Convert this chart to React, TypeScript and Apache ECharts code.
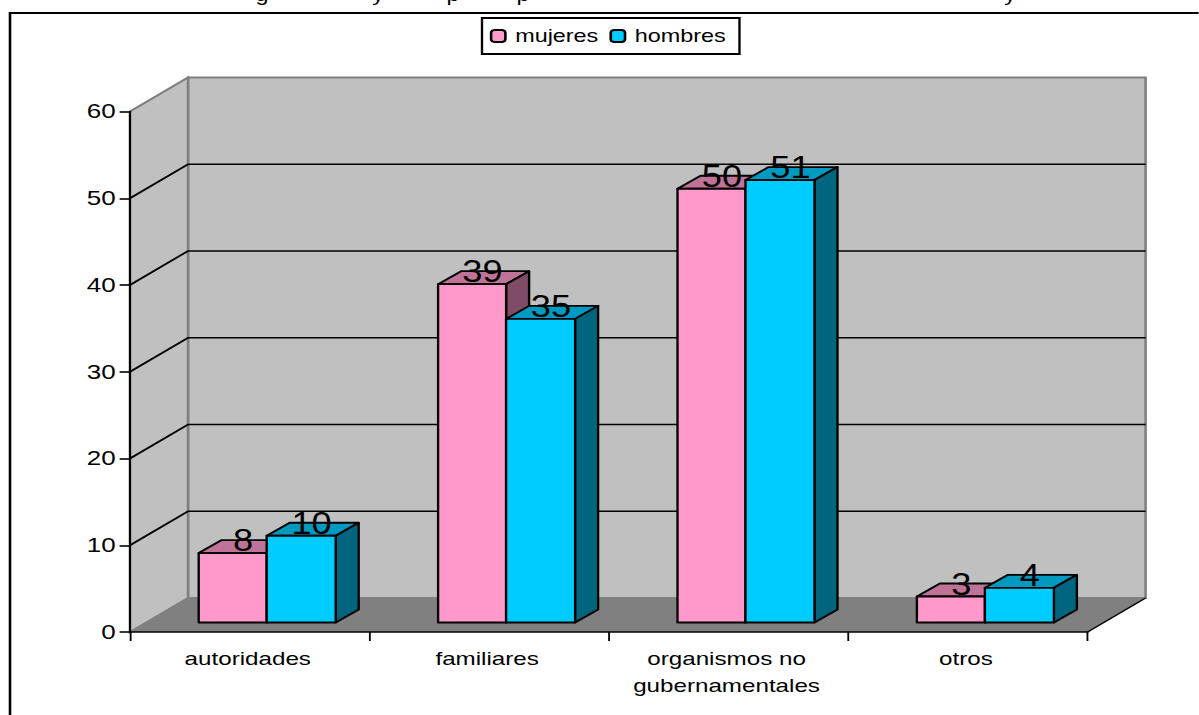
import React, { useEffect, useRef } from "react";
import * as echarts from "echarts";

const categories = ["autoridades", "familiares", "organismos no\ngubernamentales", "otros"];
const mujeres = [8, 39, 50, 3];
const hombres = [10, 35, 51, 4];
const yTicks = [10, 20, 30, 40, 50];
const titleFragments: [string, number][] = [["g", 262], ["y", 378], ["p", 453], ["p", 523], ["y", 1010]];

const SX = 1.3; // the picture is stretched horizontally
const W = 1199;
const H = 715;
const FONT = '"Liberation Sans", Arial, sans-serif';
const DX = 58 / SX;
const DY = 34;
const BAR_W = [68 / SX, 69 / SX];
const BDX = 23 / SX;
const BDY = 13;
const BASE_UP = 9.5;
const CENTER_SHIFT = 17 / SX;

function wallRender(params: any, api: any) {
  const c = params.coordSys;
  const x0 = c.x;
  const x1 = c.x + c.width;
  const y0 = api.coord([0, 0])[1];
  const yTop = api.coord([0, 60])[1];
  const grey = "#808080";
  const children: any[] = [
    { type: "polygon", shape: { points: [[x0 + DX, y0 - DY], [x1 + DX, y0 - DY], [x1 + DX, yTop - DY], [x0 + DX, yTop - DY]] }, style: { fill: "#C0C0C0", stroke: grey, lineWidth: 2 } },
    { type: "polygon", shape: { points: [[x0, y0], [x0 + DX, y0 - DY], [x0 + DX, yTop - DY], [x0, yTop]] }, style: { fill: "#C0C0C0", stroke: grey, lineWidth: 2 } },
    { type: "polygon", shape: { points: [[x0, y0], [x1, y0], [x1 + DX, y0 - DY], [x0 + DX, y0 - DY]] }, style: { fill: "#808080", stroke: "none" } },
    { type: "line", shape: { x1: x1, y1: y0, x2: x1 + DX, y2: y0 - DY }, style: { stroke: "#000", lineWidth: 1.4 } },
  ];
  yTicks.forEach((t) => {
    const y = api.coord([0, t])[1];
    children.push({ type: "polyline", shape: { points: [[x0, y], [x0 + DX, y - DY], [x1 + DX, y - DY]] }, style: { fill: "none", stroke: "#000", lineWidth: 1.7 } });
  });
  return { type: "group", children };
}

function barRender(front: string, top: string, side: string, which: number) {
  return (params: any, api: any) => {
    const idx = api.value(0);
    const v = api.value(1);
    const center = api.coord([idx, 0])[0] + CENTER_SHIFT;
    const yb = api.coord([idx, 0])[1] - BASE_UP;
    const yt = api.coord([idx, v])[1] - BASE_UP;
    const w = BAR_W[which];
    const xl = center + (which === 0 ? -w : 0);
    const xr = xl + w;
    const line = { stroke: "#000", lineWidth: 1.8, lineJoin: "round" };
    return {
      type: "group",
      children: [
        { type: "polygon", shape: { points: [[xl, yt], [xr, yt], [xr + BDX, yt - BDY], [xl + BDX, yt - BDY]] }, style: { fill: top, ...line } },
        { type: "polygon", shape: { points: [[xr, yt], [xr + BDX, yt - BDY], [xr + BDX, yb - BDY], [xr, yb]] }, style: { fill: side, ...line } },
        { type: "rect", shape: { x: xl, y: yt, width: w, height: yb - yt }, style: { fill: front, ...line } },
        { type: "text", x: xl + w / 2 + 8, y: yt - 13, scaleX: 0.9, style: { text: String(v), fill: "#000", font: `31px ${FONT}`, align: "center", verticalAlign: "middle" } },
      ],
    };
  };
}

export default function App() {
  const ref = useRef<HTMLDivElement>(null);
  useEffect(() => {
    document.body.style.margin = "0";
    document.body.style.overflow = "hidden";
    const chart = echarts.init(ref.current!, undefined, { renderer: "svg" });
    const axisLine = { show: true, lineStyle: { color: "#000", width: 1.6 } };
    chart.setOption({
      animation: false,
      backgroundColor: "#fff",
      textStyle: { fontFamily: FONT },
      grid: { left: 130 / SX, right: (W - 1088) / SX, top: 111.5, bottom: H - 632 },
      legend: {
        data: ["mujeres", "hombres"],
        left: 482 / SX,
        top: 18,
        padding: [9, 10.5, 9, 6],
        itemWidth: 11,
        itemHeight: 12,
        itemGap: 8.5,
        backgroundColor: "#fff",
        borderColor: "#000",
        borderWidth: 1.8,
        selectedMode: false,
        textStyle: { fontSize: 18, color: "#000", fontFamily: FONT, padding: [0, 0, 0, 2.5] },
      },
      xAxis: {
        type: "category",
        data: categories,
        z: 5,
        axisLine,
        axisTick: { show: true, length: 9, alignWithLabel: false, lineStyle: { color: "#000", width: 1.4 } },
        axisLabel: { color: "#000", fontSize: 18.6, fontFamily: FONT, margin: 13, lineHeight: 27, interval: 0, padding: [0, 3, 0, 0] },
      },
      yAxis: {
        type: "value",
        min: 0,
        max: 60,
        interval: 10,
        z: 5,
        splitLine: { show: false },
        axisLine,
        axisTick: { show: true, length: 8, lineStyle: { color: "#000", width: 1.6 } },
        axisLabel: { color: "#000", fontSize: 20, fontFamily: FONT, margin: 11, padding: [2, 0, 0, 0] },
      },
      series: [
        { type: "custom", name: "paredes", z: 1, silent: true, clip: false, data: [[0, 0]], renderItem: wallRender, encode: { x: 0, y: 1 } },
        {
          type: "custom", name: "mujeres", z: 3, clip: false,
          itemStyle: { color: "#FF99CC", borderColor: "#000", borderWidth: 1.4 },
          data: mujeres.map((v, i) => [i, v]),
          renderItem: barRender("#FF99CC", "#BF7399", "#7F4C66", 0),
          encode: { x: 0, y: 1 },
        },
        {
          type: "custom", name: "hombres", z: 4, clip: false,
          itemStyle: { color: "#00CCFF", borderColor: "#000", borderWidth: 1.4 },
          data: hombres.map((v, i) => [i, v]),
          renderItem: barRender("#00CCFF", "#0099BF", "#006680", 1),
          encode: { x: 0, y: 1 },
        },
      ],
      graphic: [
        { type: "rect", z: -1, silent: true, shape: { x: 10 / SX, y: 13, width: W, height: H }, style: { fill: "none", stroke: "#000", lineWidth: 2 } },
        ...titleFragments.map(([t, x]) => ({
          type: "text", silent: true, x: x / SX, y: -14,
          style: { text: t, fill: "#000", font: `18px ${FONT}`, align: "center", verticalAlign: "top" },
        })),
      ],
    });
    return () => chart.dispose();
  }, []);
  return (
    <div
      ref={ref}
      style={{ position: "absolute", left: 0, top: 0, width: W / SX, height: H, transform: `scaleX(${SX})`, transformOrigin: "0 0" }}
    />
  );
}
